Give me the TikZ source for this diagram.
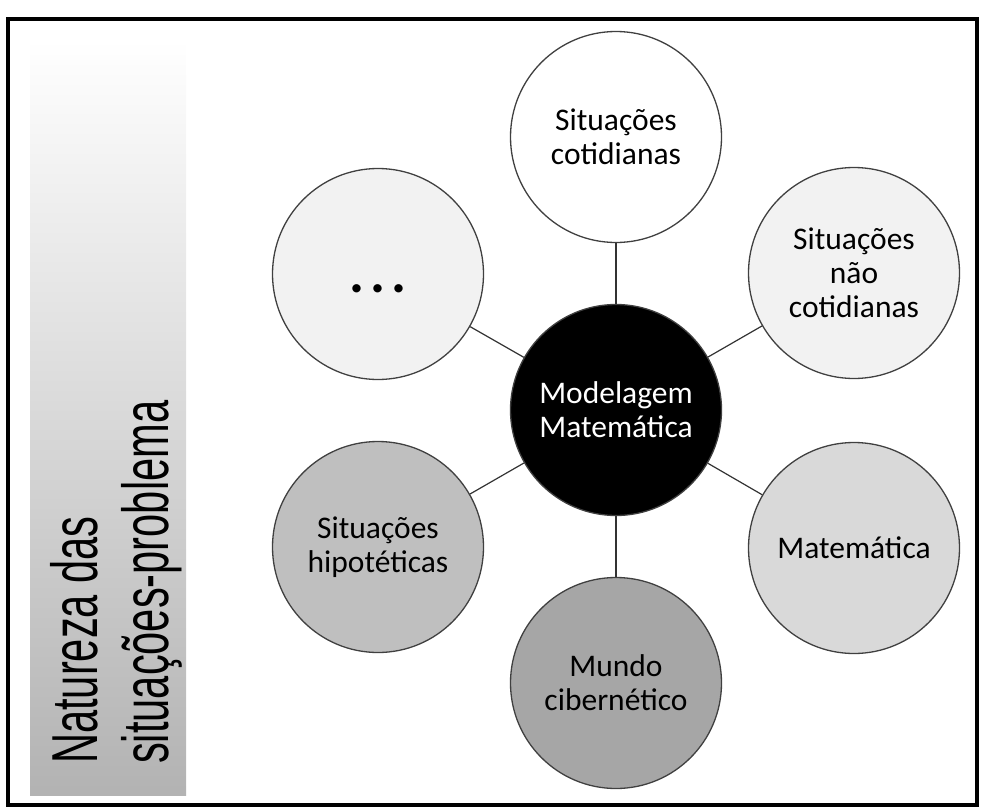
\documentclass[tikz,border=0pt]{standalone}
\usepackage{fontspec}
\setmainfont{Carlito}
\newfontfamily\sidefont{Liberation Sans}
\usepackage{tikz}

\begin{document}
\begin{tikzpicture}[x=1pt, y=-1pt,
        bubble/.style={circle, draw=black!75, line width=1.3pt, minimum size=211pt, inner sep=0pt, align=center, font=\fontsize{31.5}{34}\selectfont},
        link/.style={draw=black!80, line width=1.2pt},
        sidetext/.style={anchor=base west, rotate=90, inner sep=0pt, font=\sidefont\fontsize{65}{65}\selectfont}]
        \useasboundingbox (0,0) rectangle (982,808);
        \draw [line width=3.5pt] (8,19) rectangle (977,805);
        \shade [top color=white, middle color=black!15, bottom color=black!30] (30,40) rectangle (186,795);
        \node (n1) at (97,764) [sidetext] {\scalebox{0.64}[1]{Natureza das}};
        \node (n2) at (168,764) [sidetext] {\scalebox{0.64}[1]{situações-problema}};
        \node (m) at (616,410) [bubble, fill=black, text=white] {Modelagem\\Matemática};
        \node (s1) at (616,137) [bubble, fill=white] {Situações\\cotidianas};
        \node (s2) at (854,273) [bubble, fill=black!5] {Situações\\não\\cotidianas};
        \node (s3) at (854,548) [bubble, fill=black!15] {Matemática};
        \node (s4) at (616,683) [bubble, fill=black!35] {Mundo\\cibernético};
        \node (s5) at (378,547) [bubble, fill=black!25] {Situações\\hipotéticas};
        \node (s6) at (378,274) [bubble, fill=black!5, font=\fontsize{56}{56}\bfseries] {\rule[-4pt]{0pt}{44pt}.\kern6pt.\kern6pt.};
        \draw [link] (m) edge (s1);
        \draw [link] (m) edge (s2);
        \draw [link] (m) edge (s3);
        \draw [link] (m) edge (s4);
        \draw [link] (m) edge (s5);
        \draw [link] (m) edge (s6);
    \end{tikzpicture}
\end{document}
